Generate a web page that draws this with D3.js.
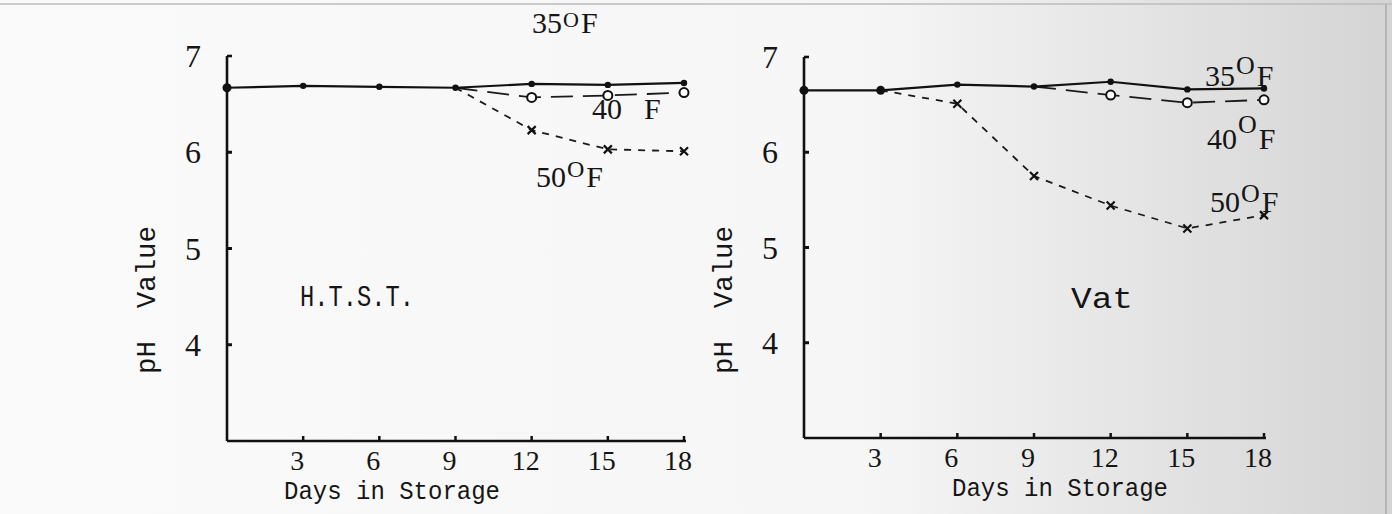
<!DOCTYPE html>
<html lang="en">
<head>
<meta charset="UTF-8">
<title>pH Value vs Days in Storage</title>
<script src="https://d3js.org/d3.v7.min.js"></script>
<style>
    body { margin: 0; background: #fbfbfb; }
    .axis-line { stroke: #111; stroke-width: 2.6px; fill: none; }
    .tick-num { font-family: "Liberation Serif", serif; fill: #151515; }
    .typed { font-family: "Liberation Mono", monospace; fill: #151515; }
    .hand { font-family: "Liberation Serif", serif; fill: #151515; }
</style>
</head>
<body>
<svg width="1392" height="514"></svg>
<script>
    // data
    const days = [0, 3, 6, 9, 12, 15, 18];
    const xTicks = [3, 6, 9, 12, 15, 18];
    const yTicks = [4, 5, 6, 7];

    const htst35 = [6.67, 6.69, 6.68, 6.67, 6.71, 6.70, 6.72];
    const htst40Days = [9, 12, 15, 18];
    const htst40 = [6.67, 6.57, 6.59, 6.62];
    const htst50Days = [9, 12, 15, 18];
    const htst50 = [6.67, 6.23, 6.03, 6.01];

    const vat35 = [6.65, 6.65, 6.71, 6.69, 6.74, 6.66, 6.67];
    const vat40Days = [9, 12, 15, 18];
    const vat40 = [6.69, 6.60, 6.52, 6.55];
    const vat50Days = [3, 6, 9, 12, 15, 18];
    const vat50 = [6.65, 6.51, 5.75, 5.44, 5.20, 5.34];

    const svg = d3.select("svg");

    // paper background, greyer towards the right edge
    const defs = svg.append("defs");
    const grad = defs.append("linearGradient").attr("id", "paper")
        .attr("x1", "0%").attr("x2", "100%");
    grad.append("stop").attr("offset", "0%").attr("stop-color", "#fafafa");
    grad.append("stop").attr("offset", "62%").attr("stop-color", "#f6f6f6");
    grad.append("stop").attr("offset", "80%").attr("stop-color", "#e6e6e6");
    grad.append("stop").attr("offset", "100%").attr("stop-color", "#d4d4d4");
    svg.append("rect").attr("width", 1392).attr("height", 514).attr("fill", "url(#paper)");
    svg.append("line").attr("x1", 0).attr("x2", 1392).attr("y1", 4).attr("y2", 4)
        .attr("stroke", "#bbb").attr("stroke-width", 1.5);
    svg.append("line").attr("x1", 1386).attr("x2", 1386).attr("y1", 4).attr("y2", 514)
        .attr("stroke", "#aaa").attr("stroke-width", 1.5);

    function drawPanel(p) {
        const x = d3.scaleLinear().domain([0, 18]).range(p.xRange);
        const y = d3.scaleLinear().domain([3, 7]).range(p.yRange);
        const g = svg.append("g");

        // axes
        g.append("line").attr("class", "axis-line")
            .attr("x1", x(0)).attr("x2", x(0)).attr("y1", y(7)).attr("y2", y(3));
        g.append("line").attr("class", "axis-line")
            .attr("x1", x(0)).attr("x2", x(18) + 2).attr("y1", y(3)).attr("y2", y(3));
        // top cap of y axis
        g.append("line").attr("class", "axis-line")
            .attr("x1", x(0)).attr("x2", x(0) + 5).attr("y1", y(7)).attr("y2", y(7));

        // y ticks: small nubs and labels
        g.selectAll(".ytick").data(yTicks.filter(d => d < 7)).enter().append("line")
            .attr("x1", x(0)).attr("x2", x(0) + 5)
            .attr("y1", d => y(d)).attr("y2", d => y(d))
            .attr("stroke", "#111").attr("stroke-width", 3);
        g.selectAll(".ylab").data(yTicks).enter().append("text")
            .attr("class", "tick-num")
            .attr("x", x(0) - 34).attr("y", d => y(d) + 11)
            .attr("text-anchor", "middle").attr("font-size", 32)
            .text(d => d);

        // x ticks
        g.selectAll(".xtick").data(xTicks).enter().append("line")
            .attr("x1", d => x(d)).attr("x2", d => x(d))
            .attr("y1", y(3)).attr("y2", y(3) - 5)
            .attr("stroke", "#111").attr("stroke-width", 2.5);
        g.selectAll(".xlab").data(xTicks).enter().append("text")
            .attr("class", "tick-num")
            .attr("x", d => x(d) - 6).attr("y", y(3) + 29)
            .attr("text-anchor", "middle").attr("font-size", 28)
            .text(d => d);

        // axis titles
        g.append("text").attr("class", "typed")
            .attr("x", p.xTitleX).attr("y", y(3) + 58)
            .attr("text-anchor", "middle").attr("font-size", 26)
            .attr("textLength", 216).attr("lengthAdjust", "spacingAndGlyphs")
            .text("Days in Storage");
        g.append("text").attr("class", "typed")
            .attr("transform", `translate(${x(0) - 72},${p.yTitleY}) rotate(-90)`)
            .attr("text-anchor", "middle").attr("font-size", 28)
            .attr("textLength", 148).attr("lengthAdjust", "spacingAndGlyphs")
            .attr("xml:space", "preserve")
            .text("pH  Value");

        // panel name
        g.append("text").attr("class", "typed")
            .attr("x", p.nameX).attr("y", p.nameY)
            .attr("text-anchor", "middle").attr("font-size", 30)
            .attr("textLength", p.nameLen).attr("lengthAdjust", "spacingAndGlyphs")
            .text(p.name);

        const line = d3.line().x(d => x(d[0])).y(d => y(d[1]));

        // 50 F, short dashes with x marks
        const s50 = p.d50Days.map((d, i) => [d, p.v50[i]]);
        g.append("path").attr("d", line(s50)).attr("fill", "none")
            .attr("stroke", "#1a1a1a").attr("stroke-width", 1.8)
            .attr("stroke-dasharray", "7,7");
        g.selectAll(".m50").data(s50.slice(1)).enter().append("path")
            .attr("d", d => {
                const cx = x(d[0]), cy = y(d[1]);
                return `M${cx - 4},${cy - 4}L${cx + 4},${cy + 4}M${cx + 4},${cy - 4}L${cx - 4},${cy + 4}`;
            })
            .attr("stroke", "#111").attr("stroke-width", 2.2);

        // 40 F, long dashes with open circles
        const s40 = p.d40Days.map((d, i) => [d, p.v40[i]]);
        g.append("path").attr("d", line(s40)).attr("fill", "none")
            .attr("stroke", "#1a1a1a").attr("stroke-width", 1.8)
            .attr("stroke-dasharray", "22,10");
        g.selectAll(".m40").data(s40.slice(1)).enter().append("circle")
            .attr("cx", d => x(d[0])).attr("cy", d => y(d[1])).attr("r", 4.5)
            .attr("fill", "#fff").attr("stroke", "#111").attr("stroke-width", 2);

        // 35 F, solid with dots
        const s35 = days.map((d, i) => [d, p.v35[i]]);
        g.append("path").attr("d", line(s35)).attr("fill", "none")
            .attr("stroke", "#111").attr("stroke-width", 2.2);
        g.selectAll(".m35").data(s35).enter().append("circle")
            .attr("cx", d => x(d[0])).attr("cy", d => y(d[1]))
            .attr("r", (d, i) => i === 0 || (p.bigFirst && i === 1) ? 4.5 : 3.2)
            .attr("fill", "#111");

        // temperature labels
        p.labels.forEach(l => {
            const t = g.append("text").attr("class", "hand")
                .attr("x", l.x).attr("y", l.y).attr("font-size", 30);
            t.append("tspan").text(l.num);
            t.append("tspan").attr("dy", l.oDy).attr("dx", 1)
                .attr("font-size", l.oSize).text(l.o);
            t.append("tspan").attr("dy", -l.oDy).attr("dx", l.fDx).text("F");
        });
    }

    drawPanel({
        xRange: [227, 684], yRange: [441, 56],
        v35: htst35, d40Days: htst40Days, v40: htst40, d50Days: htst50Days, v50: htst50,
        xTitleX: 392, yTitleY: 300,
        name: "H.T.S.T.", nameX: 357, nameY: 306, nameLen: 114,
        bigFirst: false,
        labels: [
            {num: "35", o: "O", oDy: -6, oSize: 22, fDx: 2, x: 532, y: 33},
            {num: "40", o: "", oDy: 0, oSize: 22, fDx: 22, x: 592, y: 119},
            {num: "50", o: "O", oDy: -10, oSize: 24, fDx: 2, x: 536, y: 187}
        ]
    });

    drawPanel({
        xRange: [804, 1264], yRange: [438, 57],
        v35: vat35, d40Days: vat40Days, v40: vat40, d50Days: vat50Days, v50: vat50,
        xTitleX: 1060, yTitleY: 300,
        name: "Vat", nameX: 1102, nameY: 308, nameLen: 62,
        bigFirst: true,
        labels: [
            {num: "35", o: "O", oDy: -12, oSize: 26, fDx: 2, x: 1205, y: 86},
            {num: "40", o: "O", oDy: -16, oSize: 26, fDx: 2, x: 1207, y: 149},
            {num: "50", o: "O", oDy: -10, oSize: 26, fDx: 2, x: 1210, y: 212}
        ]
    });
</script>
</body>
</html>
